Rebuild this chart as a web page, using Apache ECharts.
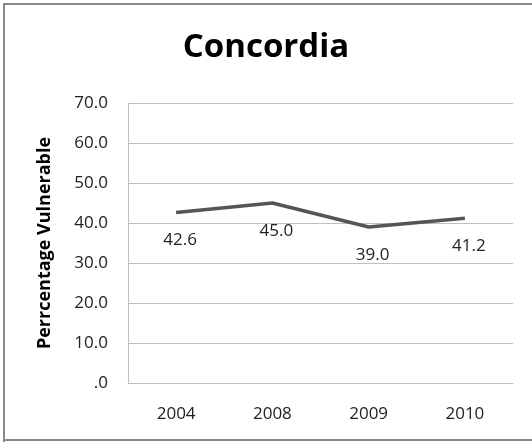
<!DOCTYPE html>
<html>
<head>
<meta charset="utf-8">
<script src="https://cdn.jsdelivr.net/npm/echarts@6/dist/echarts.min.js"></script>
<style>
    html, body { margin: 0; padding: 0; background: #fff; }
    #main { width: 532px; height: 442px; }
</style>
</head>
<body>
<div id="main"></div>
<script>
    var years = ['2004', '2008', '2009', '2010'];
    var vulnerable = [42.6, 45.0, 39.0, 41.2];

    var chartDom = document.getElementById('main');
    var myChart = echarts.init(chartDom);
    var font = 'Open Sans';

    var option = {
        backgroundColor: '#fff',
        animation: false,
        title: {
            text: 'Concordia',
            left: 'center',
            top: 26,
            textStyle: { fontFamily: font, fontSize: 33, fontWeight: 'bold', color: '#000' }
        },
        graphic: [{
            type: 'polyline',
            shape: { points: [[4, 442], [4, 4], [532, 4]] },
            style: { stroke: '#8a8a8a', lineWidth: 2, fill: null }
        }, {
            type: 'line',
            shape: { x1: 4, y1: 440, x2: 532, y2: 440 },
            style: { stroke: '#8a8a8a', lineWidth: 2 }
        }],
        grid: { left: 128, right: 19, top: 103, bottom: 59 },
        xAxis: {
            type: 'category',
            data: years,
            axisLine: { lineStyle: { color: '#bfbfbf', width: 1 } },
            axisTick: { show: false },
            axisLabel: { fontFamily: font, fontSize: 17, color: '#222', margin: 23 }
        },
        yAxis: {
            type: 'value',
            min: 0,
            max: 70,
            interval: 10,
            name: 'Perrcentage Vulnerable',
            nameLocation: 'middle',
            nameGap: 74,
            nameTextStyle: { fontFamily: font, fontSize: 18, fontWeight: 'bold', color: '#000' },
            axisLine: { show: true, lineStyle: { color: '#bfbfbf', width: 1 } },
            axisTick: { show: false },
            splitLine: { lineStyle: { color: '#bfbfbf', width: 1 } },
            axisLabel: {
                fontFamily: font, fontSize: 17, color: '#222', margin: 20,
                formatter: function (v) { return v === 0 ? '.0' : v.toFixed(1); }
            }
        },
        series: [{
            type: 'line',
            data: vulnerable,
            symbol: 'circle',
            symbolSize: 1,
            itemStyle: { color: 'rgba(0,0,0,0)' },
            lineStyle: { color: '#555', width: 3.5 },
            label: {
                show: true,
                position: 'bottom',
                distance: 19,
                offset: [4, 0],
                fontFamily: font,
                fontSize: 17,
                color: '#222',
                formatter: function (p) { return p.value.toFixed(1); }
            }
        }]
    };

    option && myChart.setOption(option);
</script>
</body>
</html>
